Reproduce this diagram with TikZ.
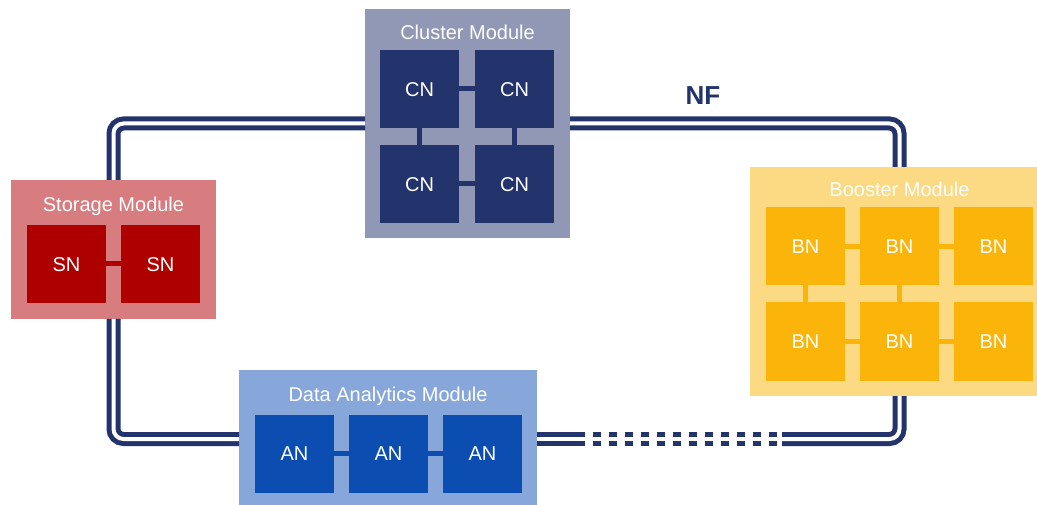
\documentclass[tikz,border=0pt]{standalone}
\usepackage{fontspec}
\setmainfont{Liberation Sans}
\definecolor{navy}{HTML}{23336B}
\definecolor{clusterbg}{HTML}{9198B5}
\definecolor{cnfill}{HTML}{23336B}
\definecolor{storagebg}{HTML}{D77C7F}
\definecolor{snfill}{HTML}{AF0000}
\definecolor{boosterbg}{HTML}{FCD983}
\definecolor{bnfill}{HTML}{FBB40A}
\definecolor{analyticsbg}{HTML}{87A7DA}
\definecolor{anfill}{HTML}{0C4DB1}
\begin{document}
\begin{tikzpicture}[x=1pt,y=-1pt,
  module/.style={rectangle, inner sep=0pt, outer sep=0pt},
  unit/.style={rectangle, inner sep=0pt, outer sep=0pt, minimum width=79pt, minimum height=78pt,
    text=white, font=\fontsize{20}{24}\selectfont, text height=14.3pt, text depth=0pt},
  title/.style={anchor=base, inner sep=0pt, text=white, font=\fontsize{20}{24}\selectfont},
  nf/.style={draw=navy, line width=5pt, double=white, double distance=4pt, rounded corners=10pt},
  link/.style={line width=5pt}]
\useasboundingbox (0,0) rectangle (1037,505);

% Cluster module
\node[module, fill=clusterbg, minimum width=205pt, minimum height=229pt] (cluster) at (467.5,123.5) {};
\node[title] (clustertitle) at (467.5,39.5) {Cluster Module};
\node[unit, fill=cnfill] (cn11) at (419.5,89) {CN};
\node[unit, fill=cnfill] (cn12) at (514.5,89) {CN};
\node[unit, fill=cnfill] (cn21) at (419.5,184) {CN};
\node[unit, fill=cnfill] (cn22) at (514.5,184) {CN};
\draw[link, cnfill] (cn11) -- (cn12);
\draw[link, cnfill] (cn21) -- (cn22);
\draw[link, cnfill] (cn11) -- (cn21);
\draw[link, cnfill] (cn12) -- (cn22);

% Storage module
\node[module, fill=storagebg, minimum width=205pt, minimum height=139pt] (storage) at (113.5,249.5) {};
\node[title] (storagetitle) at (113.5,212) {Storage Module};
\node[unit, fill=snfill] (sn1) at (66.5,264) {SN};
\node[unit, fill=snfill] (sn2) at (160.5,264) {SN};
\draw[link, snfill] (sn1) -- (sn2);

% Booster module
\node[module, fill=boosterbg, minimum width=299pt, minimum height=229pt] (booster) at (899.5,281.5) {};
\node[title] (boostertitle) at (899.5,197) {Booster Module};
\node[unit, fill=bnfill] (bn11) at (805.5,246.5) {BN};
\node[unit, fill=bnfill] (bn12) at (899.5,246.5) {BN};
\node[unit, fill=bnfill] (bn13) at (993.5,246.5) {BN};
\node[unit, fill=bnfill] (bn21) at (805.5,341.5) {BN};
\node[unit, fill=bnfill] (bn22) at (899.5,341.5) {BN};
\node[unit, fill=bnfill] (bn23) at (993.5,341.5) {BN};
\draw[link, bnfill] (bn11) -- (bn12);
\draw[link, bnfill] (bn12) -- (bn13);
\draw[link, bnfill] (bn21) -- (bn22);
\draw[link, bnfill] (bn22) -- (bn23);
\draw[link, bnfill] (bn11) -- (bn21);
\draw[link, bnfill] (bn12) -- (bn22);

% Data analytics module
\node[module, fill=analyticsbg, minimum width=298pt, minimum height=138pt] (analytics) at (388,439) {};
\node[title] (analyticstitle) at (388,401) {Data Analytics Module};
\node[unit, fill=anfill] (an1) at (294.5,453.5) {AN};
\node[unit, fill=anfill] (an2) at (388.5,453.5) {AN};
\node[unit, fill=anfill] (an3) at (482.5,453.5) {AN};
\draw[link, anfill] (an1) -- (an2);
\draw[link, anfill] (an2) -- (an3);

% Network fabric
\coordinate (dashR) at (782,439);
\coordinate (dashRs) at (777,439);
\coordinate (dashLs) at (593,439);
\coordinate (dashL) at (585,439);
\draw[nf] (cluster.west) -| (storage.north);
\draw[nf] (storage.south) |- (analytics.west);
\draw[nf] (cluster.east) -| (booster.north);
\draw[nf] (booster.south) |- (dashR);
\draw[nf, rounded corners=0pt, dash pattern=on 8pt off 8pt] (dashRs) -- (dashLs);
\draw[nf] (dashL) -- (analytics.east);
\node[anchor=base, inner sep=0pt, text=navy, font=\bfseries\fontsize{26}{30}\selectfont] (nflabel) at (703,105) {NF};
\end{tikzpicture}
\end{document}
